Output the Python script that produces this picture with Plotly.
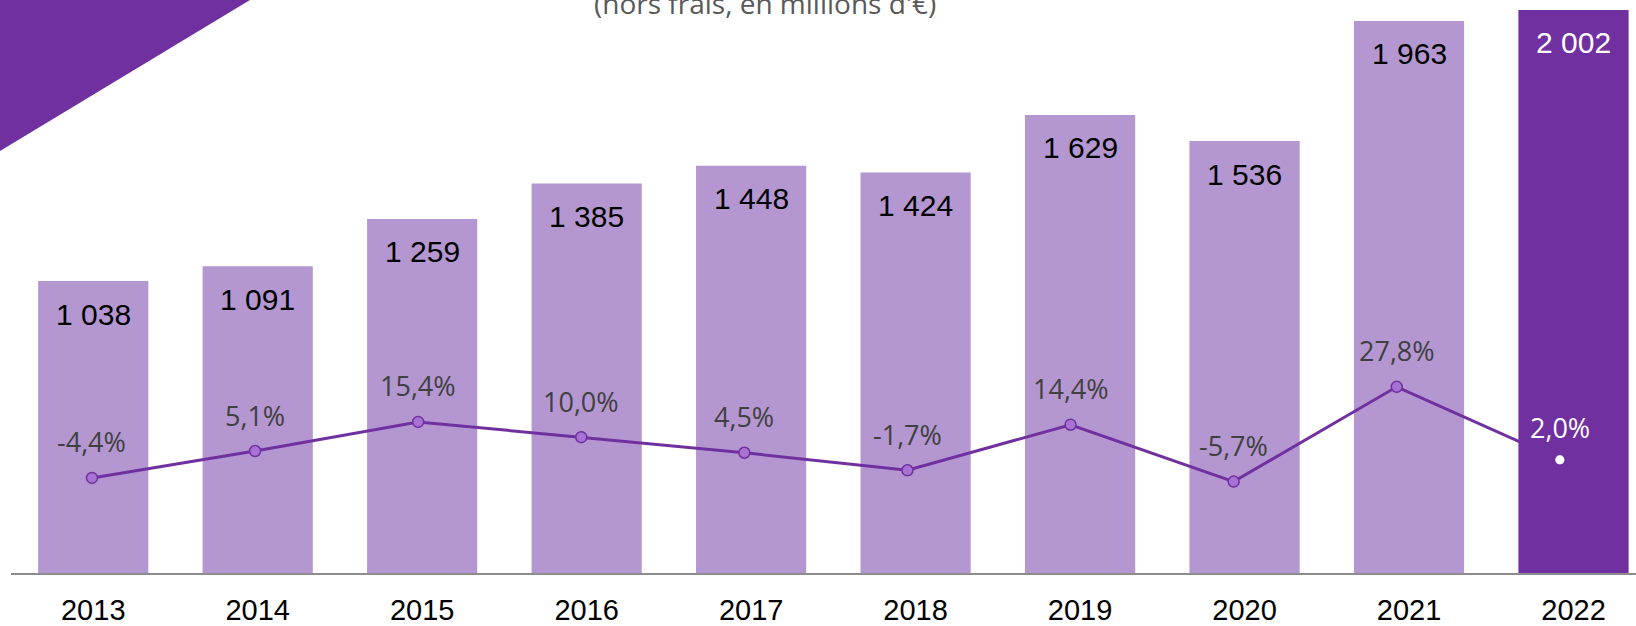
import plotly.graph_objects as go

years = ["2013", "2014", "2015", "2016", "2017", "2018", "2019", "2020", "2021", "2022"]
amounts = [1038, 1091, 1259, 1385, 1448, 1424, 1629, 1536, 1963, 2002]
growth = [-4.4, 5.1, 15.4, 10.0, 4.5, -1.7, 14.4, -5.7, 27.8, 2.0]
amount_labels = ["1 038", "1 091", "1 259", "1 385", "1 448", "1 424", "1 629", "1 536", "1 963", "2 002"]
growth_labels = ["-4,4%", "5,1%", "15,4%", "10,0%", "4,5%", "-1,7%", "14,4%", "-5,7%", "27,8%", "2,0%"]
title_text = "(hors frais, en millions d'€)"

LIGHT = "#B497D0"
DARK = "#7030A0"
MARKER_FILL = "#A772D4"

W, H = 1636, 626
ML, MR, MT, MB = 11, 0, 0, 53
Y1_RANGE = [0, 2037.5]
Y2_RANGE = [-38.0, 164.5]
X1_RANGE = [-0.5, 9.38]
X2_RANGE = [-0.4966, 9.467]

xi = list(range(len(years)))

fig = go.Figure()

fig.add_trace(go.Bar(x=xi[:-1], y=amounts[:-1], marker_color=LIGHT, marker_line_width=0,
                     xaxis="x", yaxis="y", showlegend=False, hoverinfo="skip"))
fig.add_trace(go.Scatter(x=xi, y=growth, mode="lines+markers", xaxis="x2", yaxis="y2",
                         line=dict(color=DARK, width=3),
                         marker=dict(size=11, color=MARKER_FILL, line=dict(color=DARK, width=1.5)),
                         showlegend=False, hoverinfo="skip"))
fig.add_trace(go.Bar(x=xi[-1:], y=amounts[-1:], marker_color=DARK, marker_line_width=0,
                     xaxis="x", yaxis="y3", showlegend=False, hoverinfo="skip"))
fig.add_trace(go.Scatter(x=xi[-1:], y=growth[-1:], mode="markers", xaxis="x2", yaxis="y4",
                         marker=dict(size=9, color="white"), showlegend=False, hoverinfo="skip"))

annotations = []
for i, (v, lab) in enumerate(zip(amounts, amount_labels)):
    annotations.append(dict(x=i, y=v, xref="x", yref="y", text=lab, showarrow=False,
                            yshift=-33, yanchor="middle",
                            font=dict(family="Liberation Sans, Arial", size=30,
                                      color="white" if i == len(years) - 1 else "black")))
for i, (g, lab) in enumerate(zip(growth, growth_labels)):
    last = i == len(years) - 1
    annotations.append(dict(x=i, y=g, xref="x2", yref="y2", text=lab, showarrow=False,
                            yshift=32 if last else 36, yanchor="middle",
                            font=dict(family="Open Sans", size=27,
                                      color="white" if last else "#404040")))

pw = W - ML - MR
ph = H - MT - MB
def px(xp):
    return (xp - ML) / pw
def py(yp):
    return (H - MB - yp) / ph

annotations.append(dict(x=px(765), y=py(3), xref="paper", yref="paper", text=title_text,
                        showarrow=False, xanchor="center", yanchor="middle",
                        font=dict(family="Open Sans", size=28, color="#595959")))

tri = f"M {px(0)},{py(0)} L {px(250)},{py(0)} L {px(0)},{py(151)} Z"

fig.update_layout(
    width=W, height=H,
    margin=dict(l=ML, r=MR, t=MT, b=MB, pad=0, autoexpand=False),
    paper_bgcolor="white", plot_bgcolor="white",
    bargap=0.33,
    xaxis=dict(range=X1_RANGE, showgrid=False, zeroline=False,
               showline=True, linecolor="#8C8C8C", linewidth=1.5, ticks="",
               tickmode="array", tickvals=xi, ticktext=years,
               tickfont=dict(family="Liberation Sans, Arial", size=29, color="black"),
               ticklabelstandoff=10, automargin=False),
    xaxis2=dict(range=X2_RANGE, visible=False, overlaying="x"),
    yaxis=dict(range=Y1_RANGE, visible=False, automargin=False),
    yaxis2=dict(range=Y2_RANGE, visible=False, overlaying="y"),
    yaxis3=dict(range=Y1_RANGE, visible=False, overlaying="y"),
    yaxis4=dict(range=Y2_RANGE, visible=False, overlaying="y"),
    shapes=[dict(type="path", path=tri, xref="paper", yref="paper",
                 fillcolor=DARK, line=dict(width=0), layer="above")],
    annotations=annotations,
)

fig.write_html("out.html", config={"displayModeBar": False},
               post_script="document.body.style.margin='0px';")
